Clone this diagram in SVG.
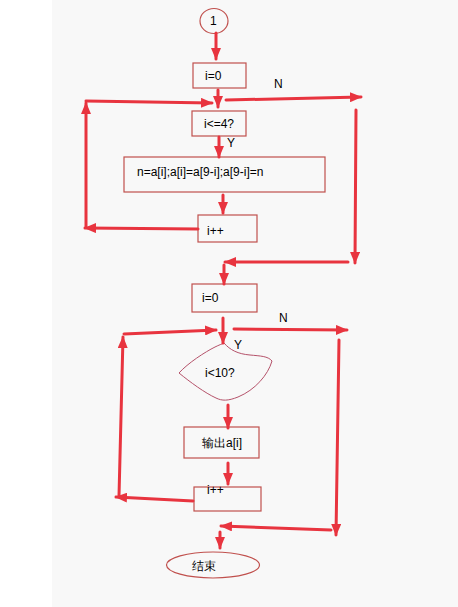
<svg xmlns="http://www.w3.org/2000/svg" width="458" height="607" viewBox="0 0 458 607">
<defs>
<style>
.box{fill:none;stroke:#c0504d;stroke-width:1.2}
.t{font-family:"Liberation Sans",Arial,sans-serif;font-size:12px;fill:#000}
.c{fill:none;stroke:#e8343f;stroke-width:3;stroke-linecap:round}
</style>
<marker id="ah" markerUnits="userSpaceOnUse" markerWidth="12" markerHeight="10" refX="11" refY="5" orient="auto">
<path d="M0,0 L12,5 L0,10 Z" fill="#e8343f"/>
</marker>
</defs>
<rect x="0" y="0" width="458" height="607" fill="#ffffff"/>
<rect x="52" y="0" width="406" height="607" fill="#f8f8f8"/>

<g id="start">
<ellipse cx="214" cy="21" rx="14" ry="12.5" class="box"/>
<text x="210" y="25" class="t">1</text>
</g>
<g id="init1">
<rect x="193" y="63" width="53" height="25" class="box"/>
<text x="205" y="80" class="t">i=0</text>
</g>
<g id="cond1">
<rect x="192" y="111" width="54" height="25" class="box"/>
<text x="204" y="128" class="t">i&lt;=4?</text>
</g>
<g id="swap">
<rect x="124" y="157" width="201" height="35" class="box"/>
<text x="137" y="176" class="t">n=a[i];a[i]=a[9-i];a[9-i]=n</text>
</g>
<g id="inc1">
<rect x="198" y="215" width="59" height="27" class="box"/>
<text x="207" y="235" class="t">i++</text>
</g>
<g id="init2">
<rect x="192" y="284" width="65" height="28" class="box"/>
<text x="202" y="302" class="t">i=0</text>
</g>
<g id="cond2">
<path d="M224,343 C230,350 238,354 250,355 C260,356 268,356 272,361 C268,375 255,390 238,397 C228,401 222,401 216,398 C205,393 190,382 179,373 C188,363 205,352 215,347 C219,345 222,344 224,343 Z" fill="none" stroke="#b5526a" stroke-width="1"/>
<text x="205" y="377" class="t">i&lt;10?</text>
</g>
<g id="output">
<rect x="184" y="427" width="75" height="31" class="box"/>
<text x="202" y="447" class="t" font-family="'Liberation Sans','Noto Sans CJK SC',sans-serif">输出a[i]</text>
</g>
<g id="inc2">
<rect x="194" y="487" width="67" height="24" class="box"/>
<text x="207" y="494" class="t">i++</text>
</g>
<g id="end">
<ellipse cx="213" cy="565" rx="46.5" ry="13" class="box"/>
<text x="192" y="570" class="t" font-family="'Liberation Sans','Noto Sans CJK SC',sans-serif">结束</text>
</g>

<g id="labels">
<text x="274" y="88" class="t">N</text>
<text x="227" y="147" class="t">Y</text>
<text x="279" y="322" class="t">N</text>
<text x="234" y="349" class="t">Y</text>
</g>

<g id="connectors">
<line x1="216" y1="33" x2="216" y2="59" class="c" marker-end="url(#ah)"/>
<line x1="218" y1="90" x2="218" y2="107" class="c" marker-end="url(#ah)"/>
<line x1="86" y1="101" x2="212" y2="103" class="c" marker-end="url(#ah)"/>
<line x1="226" y1="100" x2="361" y2="97" class="c" marker-end="url(#ah)"/>
<line x1="219" y1="137" x2="219" y2="157" class="c" marker-end="url(#ah)"/>
<line x1="223" y1="195" x2="223" y2="213" class="c" marker-end="url(#ah)"/>
<line x1="198" y1="229" x2="85" y2="228" class="c" marker-end="url(#ah)"/>
<line x1="86" y1="226" x2="86" y2="103" class="c" marker-end="url(#ah)"/>
<line x1="356" y1="110" x2="355" y2="263" class="c" marker-end="url(#ah)"/>
<line x1="348" y1="262" x2="225" y2="262" class="c" marker-end="url(#ah)"/>
<line x1="224" y1="265" x2="224" y2="284" class="c" marker-end="url(#ah)"/>
<line x1="223" y1="318" x2="223" y2="343" class="c" marker-end="url(#ah)"/>
<line x1="124" y1="334" x2="216" y2="330" class="c" marker-end="url(#ah)"/>
<line x1="234" y1="329" x2="347" y2="330" class="c" marker-end="url(#ah)"/>
<line x1="119" y1="496" x2="123" y2="337" class="c" marker-end="url(#ah)"/>
<line x1="193" y1="501" x2="116" y2="497" class="c" marker-end="url(#ah)"/>
<line x1="339" y1="340" x2="336" y2="535" class="c" marker-end="url(#ah)"/>
<line x1="331" y1="530" x2="221" y2="526" class="c" marker-end="url(#ah)"/>
<line x1="220" y1="532" x2="220" y2="548" class="c" marker-end="url(#ah)"/>
<line x1="228" y1="405" x2="228" y2="428" class="c" marker-end="url(#ah)"/>
<line x1="228" y1="463" x2="228" y2="484" class="c" marker-end="url(#ah)"/>
</g>
</svg>
